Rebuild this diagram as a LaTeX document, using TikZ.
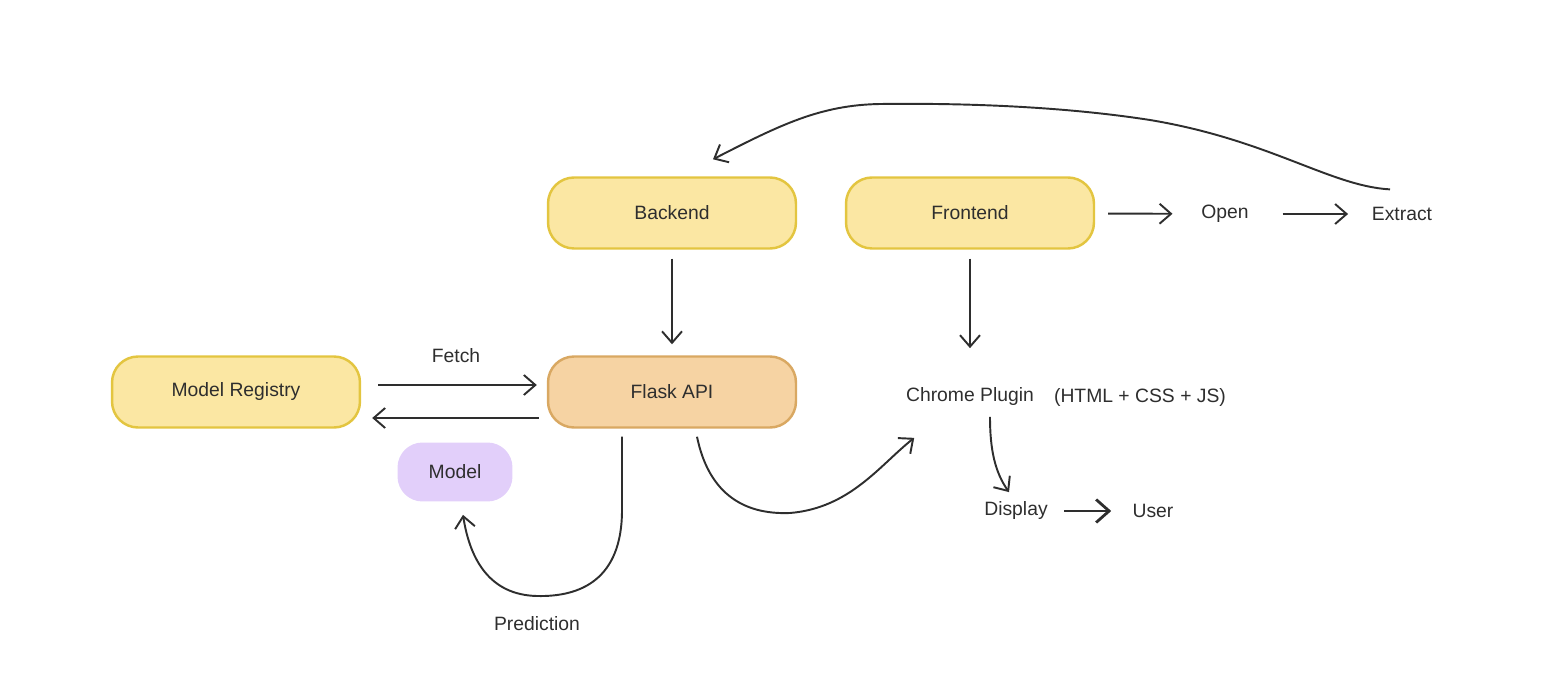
\documentclass[tikz,border=0pt]{standalone}
\usepackage{fontspec}
\setmainfont{Liberation Sans}
\usetikzlibrary{arrows.meta,calc}
\definecolor{ylwfill}{HTML}{FBE7A3}
\definecolor{ylwline}{HTML}{E3C540}
\definecolor{orgfill}{HTML}{F6D3A3}
\definecolor{orgline}{HTML}{D9A862}
\definecolor{lavfill}{HTML}{E2CFFA}
\definecolor{ink}{HTML}{2E2E2E}
\tikzset{
	box/.style = {rectangle, rounded corners=0.52cm, line width=1.4pt, draw=ylwline, fill=ylwfill,
		minimum width=4.96cm, minimum height=1.42cm, text=ink},
	apibox/.style = {box, draw=orgline, fill=orgfill},
	mdlbox/.style = {rectangle, rounded corners=0.5cm, fill=lavfill, minimum width=2.3cm, minimum height=1.18cm, text=ink},
	lbl/.style = {text=ink, inner sep=2pt},
	arr/.style = {draw=ink, line width=1.1pt, -{Straight Barb[length=0.23cm,width=0.4cm]}},
	thickarr/.style = {arr, line width=1.6pt, -{Straight Barb[length=0.26cm,width=0.46cm]}}
}

\begin{document}
\begin{tikzpicture}[x=0.02cm, y=-0.02cm, font=\fontsize{11}{13}\selectfont]
\useasboundingbox (0,0) rectangle (1560,696);

\node [box] (backend) at (672,213) {Backend};
\node [box] (frontend) at (970,213) {Frontend};
\node [box] (registry) at (236,392) {Model Registry};
\node [apibox] (flask) at (672,392) {Flask API};
\node [mdlbox] (model) at (455,472) {Model};

\node [lbl] (open) at (1225,214) {Open};
\node [lbl] (extract) at (1402,214) {Extract};
\node [lbl] (plugin) at (970,397) {Chrome Plugin};
\node [lbl] (stack) at (1140,397) {(HTML + CSS + JS)};
\node [lbl] (display) at (1016,511) {Display};
\node [lbl] (user) at (1153,511) {User};
\node [lbl] (fetch) at (456,356) {Fetch};
\node [lbl] (prediction) at (537,624) {Prediction};

\draw [arr, shorten <=0.18cm, shorten >=0.22cm] (backend) -- (flask);
\draw [arr, shorten <=0.18cm, shorten >=0.72cm] (frontend.south) -- (plugin.north);
\draw [arr, shorten <=0.34cm, shorten >=0.2cm] ($(registry.east)+(0,-7)$) -- ($(flask.west)+(0,-7)$);
\draw [arr, shorten <=0.16cm, shorten >=0.22cm] ($(flask.west)+(0,26)$) -- ($(registry.east)+(0,26)$);
\draw [arr, shorten <=0.26cm, shorten >=0.5cm] (frontend) -- (open);
\draw [arr, shorten <=0.6cm, shorten >=0.4cm] (open) -- (extract);
\draw [thickarr, shorten <=0.25cm, shorten >=0.35cm] (display) -- (user);

\draw [arr] ($(extract.north)+(-12,-14)$) .. controls (1330,186) and (1270,140) .. (1150,120)
	.. controls (1060,106) and (960,103) .. (880,104)
	.. controls (820,105) and (780,125) .. ($(backend.north)+(41,-17)$);
\draw [arr] ($(flask.south)+(25,8)$) .. controls (708,490) and (740,515) .. (790,513)
	.. controls (850,508) and (880,465) .. ($(plugin.south west)+(12,28)$);
\draw [arr] ($(plugin.south)+(20,7)$) .. controls (990,450) and (995,472) .. ($(display.north)+(-7,-6)$);
\draw [arr] ($(flask.south)+(-50,8)$) -- (622,510) .. controls (622,580) and (580,597) .. (537,596)
	.. controls (490,595) and (470,560) .. ($(model.south)+(8,13)$);
\end{tikzpicture}
\end{document}
